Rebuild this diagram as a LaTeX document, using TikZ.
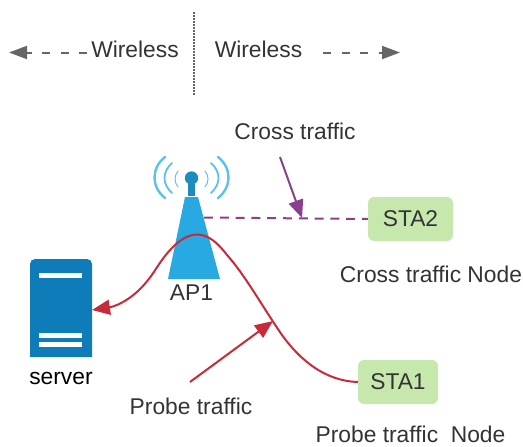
\documentclass[tikz,border=0pt]{standalone}
\usepackage{fontspec}
\setmainfont{Liberation Sans}
\usetikzlibrary{arrows.meta}
\definecolor{txt}{HTML}{333333}
\definecolor{grayline}{HTML}{666666}
\definecolor{probe}{HTML}{C92A3A}
\definecolor{cross}{HTML}{8A3F8F}
\definecolor{stagreen}{HTML}{C7E8AC}
\definecolor{towerblue}{HTML}{29A9E1}
\definecolor{mastblue}{HTML}{1E8BBE}
\definecolor{wave}{HTML}{5CC1EB}
\definecolor{serverblue}{HTML}{0F7CBA}
\tikzset{
  lbl/.style={anchor=base,text=txt,inner sep=0pt,font=\fontsize{22.8}{24}\selectfont},
  stabox/.style={fill=stagreen,rounded corners=6pt,draw=none,inner sep=0pt,text=txt,font=\fontsize{22.8}{24}\selectfont},
  wirearrow/.style={draw=grayline,line width=2pt,dash pattern=on 8pt off 10.5pt,-{Triangle[length=18pt,width=13pt,fill=grayline]}},
  wavearc/.style={draw=wave,line cap=round},
  proberoute/.style={draw=probe,line width=2pt},
  probearrow/.style={proberoute,-{Triangle[length=18pt,width=15pt,fill=probe]}},
  crossarrow/.style={draw=cross,line width=2pt,-{Triangle[length=18pt,width=15pt,fill=cross]}},
  crossdash/.style={draw=cross,line width=2pt,dash pattern=on 9pt off 6.8pt}
}
\begin{document}
\begin{tikzpicture}[x=1pt,y=-1pt]
\useasboundingbox (0,0) rectangle (523,447);
% divider
\coordinate (divtop) at (194,12);
\coordinate (divbot) at (194,95);
\draw[grayline,line width=1.6pt,dash pattern=on 1.6pt off 1.4pt] (divtop) -- (divbot);
% wireless
\node[lbl] (wl) at (135,57.5) {Wireless};
\node[lbl] (wr) at (258.5,57.5) {Wireless};
\coordinate (wlstart) at (87,52.5);
\coordinate (wlend) at (9,52.5);
\coordinate (wrstart) at (323,52.5);
\coordinate (wrend) at (400,52.5);
\draw[wirearrow] (wlstart) -- (wlend);
\draw[wirearrow] (wrstart) -- (wrend);
% tower
\fill[towerblue] (168,279) -- (220,279) -- (198,197) -- (185,197) -- cycle;
\fill[mastblue] (188,184) rectangle (195,196);
\fill[mastblue] (191.5,178) circle (6.7);
\draw[wavearc,line width=2.4pt] (165,157) .. controls (151,168) and (151,187) .. (165,198);
\draw[wavearc,line width=1.8pt] (172,163) .. controls (162,172) and (162,184) .. (172,193);
\draw[wavearc,line width=1pt] (178,171) .. controls (174,176) and (174,182) .. (178,187);
\draw[wavearc,line width=2.4pt] (218,157) .. controls (232,168) and (232,187) .. (218,198);
\draw[wavearc,line width=1.8pt] (211,163) .. controls (221,172) and (221,184) .. (211,193);
\draw[wavearc,line width=1pt] (205,171) .. controls (209,176) and (209,182) .. (205,187);
\node[lbl] (ap) at (191.5,300) {AP1};
% server
\fill[serverblue,rounded corners=5pt] (30,357) [sharp corners] -- (30,270) [rounded corners=5pt] -- (30,259) -- (92,259) -- (92,270) [sharp corners] -- (92,357) -- cycle;
\fill[white] (39,273) rectangle (82,278);
\fill[white] (39,333) rectangle (82,338);
\fill[white] (39,342) rectangle (82,347);
\coordinate (srv) at (92,310);
\node[lbl,text=black] (srvl) at (61,384) {server};
% stations
\node[stabox,minimum width=85pt,minimum height=44pt] (sta2) at (410.5,219) {STA2};
\node[stabox,minimum width=80pt,minimum height=44pt] (sta1) at (398,382) {STA1};
\node[lbl] (l2) at (431,282.5) {Cross traffic Node};
\node[lbl] (l1) at (410.5,442.5) {Probe traffic\ \ Node};
\node[lbl] (ct) at (295,139.5) {Cross traffic};
\node[lbl] (pt) at (191,414.5) {Probe traffic};
% cross traffic
\coordinate (twr) at (204,217.5);
\coordinate (cstart) at (280,157);
\coordinate (cend) at (302,218);
\draw[crossdash] (twr) -- (sta2.west);
\draw[crossarrow] (cstart) -- (cend);
% probe traffic
\coordinate (pstart) at (190,382);
\coordinate (pend) at (273,321);
\draw[probearrow] (sta1.west) .. controls (325,381) and (300,360) .. (282,335)
  .. controls (262,306) and (245,275) .. (227,255)
  .. controls (212,235) and (195,225) .. (173,247)
  .. controls (160,260) and (155,272) .. (148,280)
  .. controls (135,297) and (118,306) .. (srv);
\draw[probearrow] (pstart) -- (pend);
\end{tikzpicture}
\end{document}
